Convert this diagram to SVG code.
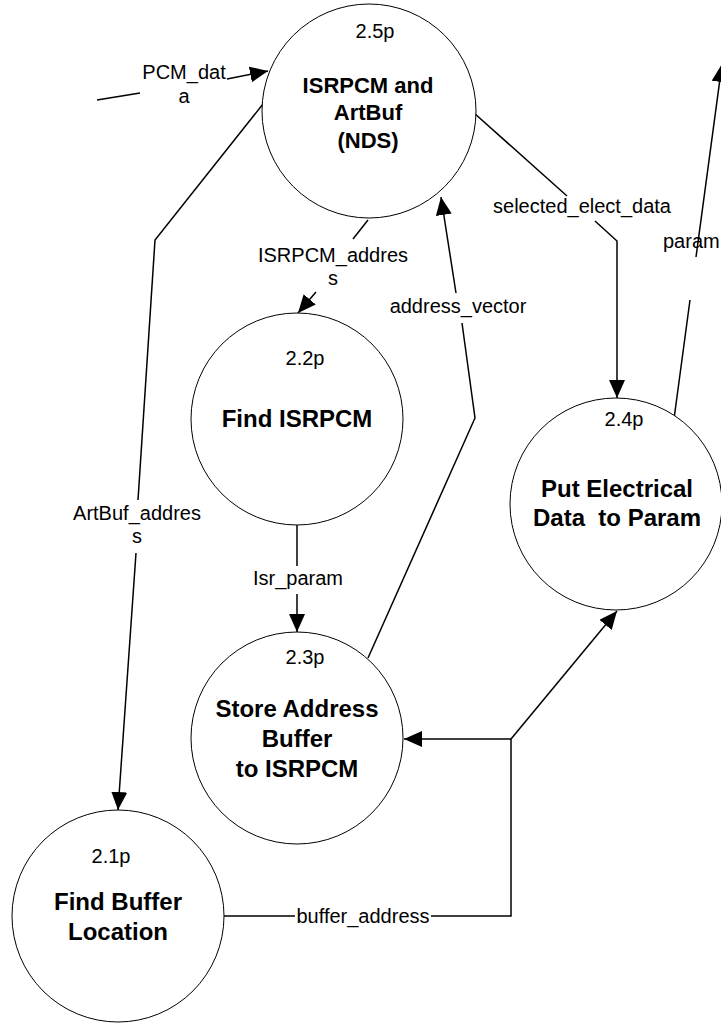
<svg xmlns="http://www.w3.org/2000/svg" width="721" height="1023" viewBox="0 0 721 1023">
<defs>
<marker id="arrow" viewBox="0 0 18 16" refX="18" refY="8" markerWidth="18" markerHeight="16" orient="auto" markerUnits="userSpaceOnUse"><path d="M0,0 L18,8 L0,16 Z" fill="#000"/></marker>
<style>
.node{fill:#fff;stroke:#000;stroke-width:1}
.num{font-family:"Liberation Sans",Arial,sans-serif;font-size:20px;fill:#000;text-anchor:middle}
.title{font-family:"Liberation Sans",Arial,sans-serif;font-size:24px;font-weight:bold;fill:#000;text-anchor:middle}
.title22{font-size:22px}
.flow{fill:none;stroke:#000;stroke-width:1.5}
.arr{marker-end:url(#arrow)}
.lbl{font-family:"Liberation Sans",Arial,sans-serif;font-size:20px;fill:#000;text-anchor:middle}
.lbl-start{text-anchor:start}
</style>
</defs>
<rect width="721" height="1023" fill="#fff"/>
<g id="connectors">
<path class="flow arr" d="M97,100 L140,93 M227,79 L268,71"/>
<path class="flow arr" d="M263,104 L155,240 L138,500 M136,553 L118,810"/>
<path class="flow arr" d="M368,220 L353,239 M316,292 L298,313"/>
<path class="flow arr" d="M368,658 L475,418 L462,323 M456,293 L441,197"/>
<path class="flow arr" d="M474,113 L567,196 M595,221 L617,241 L617,398"/>
<path class="flow arr" d="M674,419 L690,300 M696,257 L722,64"/>
<path class="flow arr" d="M297,525 L297,566 M297,594 L297,632"/>
<path class="flow arr" d="M223,916 L295,916 M431,916 L511,916 L511,739 L404,739"/>
<path class="flow arr" d="M511,739 L617,611"/>
<text class="lbl" x="184" y="79">PCM_dat</text>
<text class="lbl" x="184" y="103">a</text>
<text class="lbl" x="137" y="520">ArtBuf_addres</text>
<text class="lbl" x="137" y="543">s</text>
<text class="lbl" x="333" y="262">ISRPCM_addres</text>
<text class="lbl" x="333" y="285">s</text>
<text class="lbl" x="458" y="313">address_vector</text>
<text class="lbl" x="582" y="213">selected_elect_data</text>
<text class="lbl lbl-start" x="663" y="248">param</text>
<text class="lbl" x="298" y="585">Isr_param</text>
<text class="lbl" x="363" y="923">buffer_address</text>
</g>
<g id="node-2-5p">
<circle class="node" cx="369" cy="111" r="107"/>
<text class="num" x="375" y="38">2.5p</text>
<text class="title title22" x="368" y="93">ISRPCM and</text>
<text class="title title22" x="368" y="120">ArtBuf</text>
<text class="title title22" x="368" y="148">(NDS)</text>
</g>
<g id="node-2-2p">
<circle class="node" cx="297" cy="419" r="106"/>
<text class="num" x="305" y="365">2.2p</text>
<text class="title" x="297" y="427">Find ISRPCM</text>
</g>
<g id="node-2-3p">
<circle class="node" cx="297" cy="738" r="106"/>
<text class="num" x="305" y="664">2.3p</text>
<text class="title" x="297" y="717">Store Address</text>
<text class="title" x="297" y="747">Buffer</text>
<text class="title" x="297" y="777">to ISRPCM</text>
</g>
<g id="node-2-4p">
<circle class="node" cx="616" cy="504" r="106"/>
<text class="num" x="624" y="426">2.4p</text>
<text class="title" x="617" y="497">Put Electrical</text>
<text class="title" x="617" y="526" xml:space="preserve">Data  to Param</text>
</g>
<g id="node-2-1p">
<circle class="node" cx="118" cy="916" r="106"/>
<text class="num" x="111" y="863">2.1p</text>
<text class="title" x="118" y="910">Find Buffer</text>
<text class="title" x="118" y="940">Location</text>
</g>
</svg>
